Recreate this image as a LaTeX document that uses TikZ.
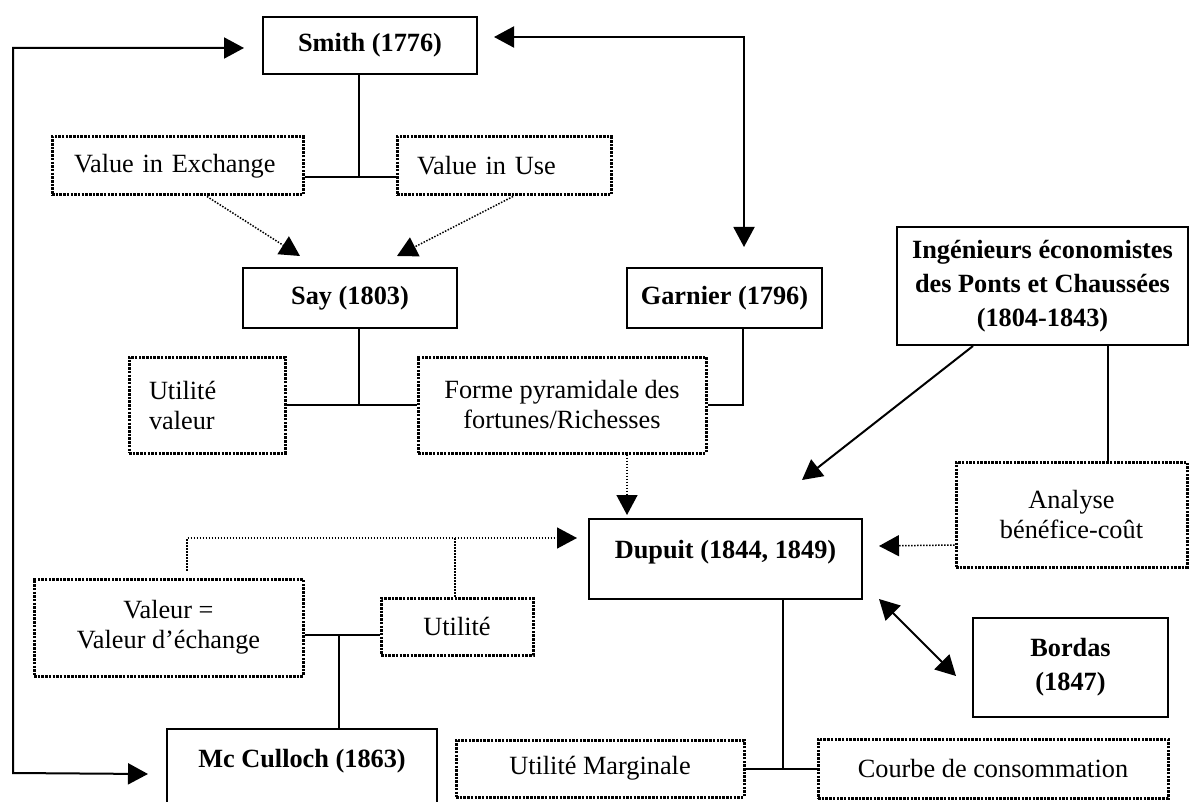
\documentclass[tikz,border=0pt]{standalone}
\usepackage{fontspec}
\setmainfont{Liberation Serif}
\usepackage{tikz}
\usetikzlibrary{arrows.meta, calc}

\begin{document}
\begin{tikzpicture}[
  x=1pt, y=-1pt,
  every node/.style={font=\fontsize{26.3}{30}\selectfont},
  person/.style={rectangle, draw, line width=2pt, align=center, inner sep=0pt,
    font=\fontsize{26.3}{34}\selectfont\bfseries},
  idea/.style={rectangle, draw, line width=3pt, dash pattern=on 2.5pt off 1.2pt,
    align=center, inner sep=0pt},
  idealeft/.style={idea, align=left},
  link/.style={line width=2pt},
  tip/.style={-{Triangle[length=20pt, width=21pt]}},
  arr/.style={link, tip},
  dblarr/.style={link, {Triangle[length=20pt, width=21pt]}-{Triangle[length=20pt, width=21pt]}},
  dotlink/.style={line width=1.5pt, dash pattern=on 1.5pt off 1.5pt},
  dotarr/.style={dotlink, tip},
]
\useasboundingbox (0,0) rectangle (1191,802);
% ====== NODES ======
\node[person, minimum width=214pt, minimum height=57pt] (Smith) at (370,45.5) {Smith (1776)};
\node[idealeft, text width=207pt, inner xsep=22pt, minimum height=58pt] (VExch) at (177.5,166) {Value in Exchange};
\node[idealeft, text width=174pt, inner xsep=20pt, minimum height=58pt] (VUse) at (504,166) {Value in Use};
\node[person, minimum width=214pt, minimum height=60pt] (Say) at (350,298) {Say (1803)};
\node[person, minimum width=195pt, minimum height=60pt] (Garnier) at (724.5,298) {Garnier (1796)};
\node[idealeft, text width=116pt, inner xsep=20pt, minimum height=96pt] (UtilVal) at (207,405) {Utilité\\valeur};
\node[idea, minimum width=288pt, minimum height=96pt] (Forme) at (562,405)
  {Forme pyramidale des\\fortunes/Richesses};
\node[person, minimum width=291pt, minimum height=118pt] (Ingen) at (1042.5,286)
  {Ingénieurs économistes\\des Ponts et Chaussées\\(1804-1843)};
\node[idea, minimum width=231pt, minimum height=105pt] (Analyse) at (1071.5,514.5)
  {Analyse\\bénéfice-coût};
\node[person, anchor=north, minimum width=273pt, text height=39pt, text depth=41pt] (Dupuit)
  at (725.5,518) {Dupuit (1844, 1849)};
\node[idea, minimum width=269pt, minimum height=97pt] (Valeur) at (168.5,627.5)
  {Valeur =\\Valeur d’échange};
\node[idea, minimum width=152pt, minimum height=57pt] (Utilite) at (457,626.5) {Utilité};
\node[person, anchor=north, minimum width=270pt, text height=38pt, text depth=42pt] (McC)
  at (302,728) {Mc Culloch (1863)};
\node[person, minimum width=195pt, minimum height=99pt] (Bordas) at (1070.5,667.5) {Bordas\\(1847)};
\node[idea, minimum width=288pt, minimum height=57pt] (UMarg) at (600,768.5) {Utilité Marginale};
\node[idea, minimum width=350pt, minimum height=59pt] (Courbe) at (993,768.5) {Courbe de consommation};
%
% ====== JUNCTIONS ======
\coordinate (jSmith) at (359,177);
\coordinate (jSay) at (359,404);
\coordinate (jDup) at (783,768);
\coordinate (jVal) at (455,537);
\coordinate (jMc) at (339,635);
\coordinate (loopTop) at (13,48);
\coordinate (loopBot) at (13,773);
%
% ====== CONNECTORS ======
\draw[link] (Smith.south -| jSmith) -- (jSmith);
\draw[link] (VExch.east |- jSmith) -- (VUse.west |- jSmith);
\draw[dotarr] ($(VExch.south)+(29.5,0)$) -- ($(Say.north)+(-50,-11)$);
\draw[dotarr] ($(VUse.south)+(9,0)$) -- ($(Say.north)+(47,-11)$);
\draw[dblarr] ($(Smith.east)+(16,-8.5)$) -| ($(Garnier.north)+(19.5,-20)$);
\draw[dblarr] ($(Smith.west)+(-18,2.5)$) -- (loopTop) -- (loopBot) -- ($(McC.west)+(-18,5)$);
%
\draw[link] (Say.south -| jSay) -- (jSay);
\draw[link] (UtilVal.east) -- (Forme.west);
\draw[link] ($(Garnier.south)+(18.5,0)$) |- (Forme.east);
\draw[dotarr] ($(Forme.south)+(65,0)$) -- ($(Dupuit.north)+(-98.5,-3)$);
%
\draw[arr] ($(Ingen.south)+(-69.5,0)$) -- ($(Dupuit.north)+(76.5,-38)$);
\draw[link] ($(Ingen.south)+(65.5,0)$) -- ($(Analyse.north)+(36.5,0)$);
\draw[dotarr] ($(Analyse.west)+(0,30.5)$) -- ($(Dupuit.east)+(16,-13)$);
\draw[dblarr] ($(Dupuit.south east)+(16,-1)$) -- ($(Bordas.west)+(-16,8.5)$);
%
\draw[link] (Dupuit.south -| jDup) -- (jDup);
\draw[link] (UMarg.east) -- (Courbe.west);
%
\draw[dotarr] ($(Valeur.north)+(18.5,-7)$) |- ($(Dupuit.west)+(-11,-21)$);
\draw[dotlink] (Utilite.north -| jVal) -- (jVal);
\draw[link] (Valeur.east |- jMc) -- (Utilite.west |- jMc);
\draw[link] (jMc) -- (McC.north -| jMc);
\end{tikzpicture}
\end{document}
